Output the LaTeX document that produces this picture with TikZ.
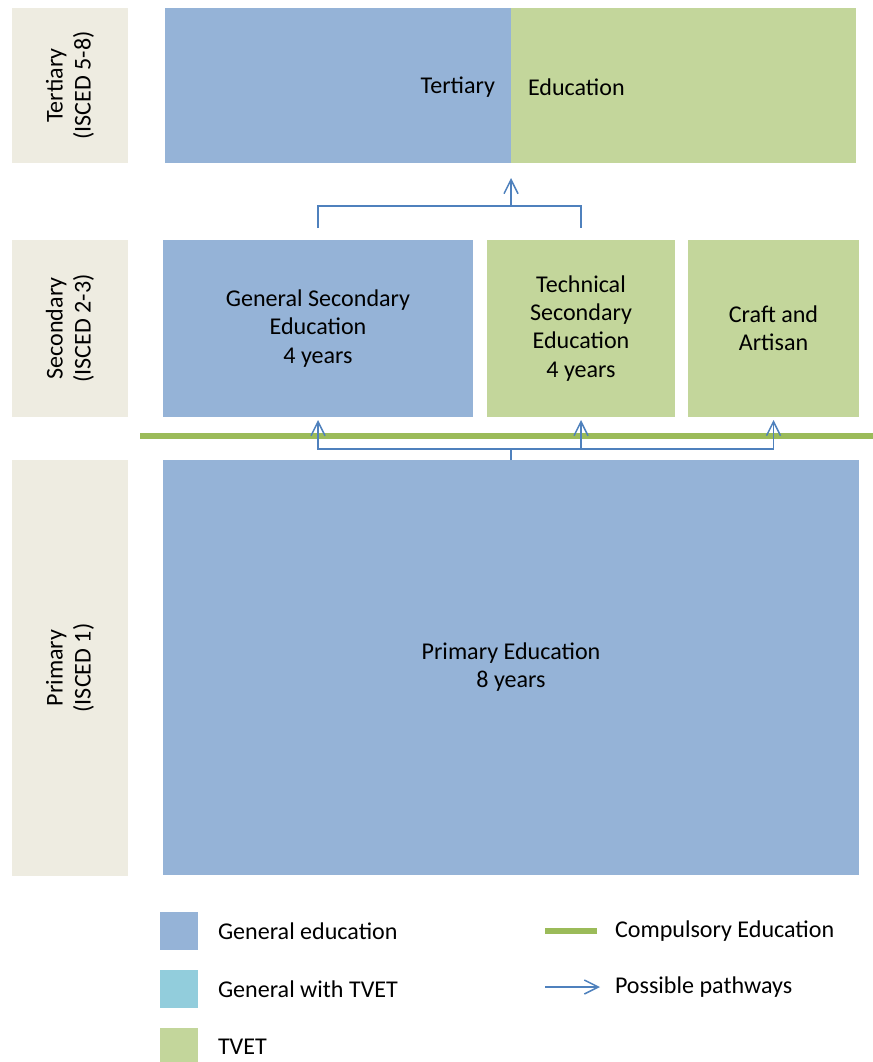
\documentclass[tikz,border=0pt]{standalone}
\usepackage{fontspec}
\setmainfont{Carlito}
\usetikzlibrary{calc,arrows.meta}
\usetikzlibrary{positioning}

\begin{document}
\begin{tikzpicture}[
		box/.style={anchor=north west,inner sep=0pt,outer sep=0pt,align=center},
		lvl/.style={box,fill=back,minimum width=2.32cm},
		key/.style={inner sep=0pt,outer sep=0pt},
		path/.style={draw=pathcolor,line width=0.85pt},
		pathto/.style={path,-{Straight Barb[length=8pt,width=8pt,line width=0.85pt]}},
		compline/.style={draw=compcolor,line width=3.4pt},
		font=\fontsize{13.7}{16}\selectfont]

		    \useasboundingbox (0,0) rectangle (17.46,-21.24);
		    \definecolor{gencolor}{RGB}{149,179,215}
		    \definecolor{tvetcolor}{RGB}{195,214,155}
		    \definecolor{gwtcolor}{RGB}{146,205,220}
		    \definecolor{back}{RGB}{238,236,225}
		    \definecolor{compcolor}{RGB}{155,187,89}
		    \definecolor{pathcolor}{RGB}{79,129,189}

		    % level labels
		    \node(ltert) [lvl,minimum height=3.1cm] at (0.24,-0.16) {};
		    \node(lsec) [lvl,minimum height=3.54cm] at (0.24,-4.8) {};
		    \node(lprim) [lvl,minimum height=8.32cm] at (0.24,-9.2) {};
		    \node[rotate=90,align=center] at (ltert) {Tertiary\\(ISCED 5-8)};
		    \node[rotate=90,align=center] at (lsec) {Secondary\\(ISCED 2-3)};
		    \node[rotate=90,align=center] at (lprim) {Primary\\(ISCED 1)};

		    % tertiary
		    \node(tgen) [box,fill=gencolor,minimum width=6.92cm,minimum height=3.1cm] at (3.3,-0.16) {};
		    \node(ttvet) [box,fill=tvetcolor,minimum width=6.9cm,minimum height=3.1cm,right=0cm of tgen] {};
		    \node(ttext1) [key,left=0.32cm of tgen.east,yshift=-1pt] {Tertiary};
		    \node(ttext2) [key,right=0.34cm of ttvet.west,yshift=-1pt] {Education};

		    % secondary
		    \node(gsec) [box,fill=gencolor,minimum width=6.2cm,minimum height=3.54cm] at (3.26,-4.8) {General Secondary\\Education\\4 years};
		    \node(tsec) [box,fill=tvetcolor,minimum width=3.76cm,minimum height=3.54cm,right=0.28cm of gsec] {Technical\\Secondary\\Education\\4 years};
		    \node(craft) [box,fill=tvetcolor,minimum width=3.42cm,minimum height=3.54cm,right=0.26cm of tsec] {Craft and\\Artisan};

		    % primary
		    \node(prim) [box,fill=gencolor,minimum width=13.92cm,minimum height=8.3cm] at (3.26,-9.2) {Primary Education\\8 years};

		    % compulsory line
		    \coordinate(cstart) at (2.8,-8.72);
		    \draw[compline] (cstart) -- (17.46,-8.72);

		    % pathways
		    \draw[path] ([yshift=0.24cm]gsec.north) -- ++(0,0.44) -| ([yshift=0.24cm]tsec.north);
		    \coordinate(tfork) at ($(gsec.north -| tgen.south east)+(0,0.68)$);
		    \draw[pathto] (tfork) -- ([yshift=-0.3cm]tgen.south east);

		    \coordinate(pfork) at ($(prim.north)+(0,0.22)$);
		    \draw[path] (prim.north) -- (pfork);
		    \draw[pathto] (pfork) -| ([yshift=-0.06cm]gsec.south);
		    \draw[pathto] (pfork) -| ([yshift=-0.06cm]tsec.south);
		    \draw[pathto] (pfork) -| ([yshift=-0.06cm]craft.south);

		    % legend
		    \node(kgen) [box,fill=gencolor,minimum size=0.76cm] at (3.2,-18.24) {};
		    \node(kgwt) [box,fill=gwtcolor,minimum size=0.76cm,below=0.4cm of kgen] {};
		    \node(ktvet) [box,fill=tvetcolor,minimum size=0.76cm,below=0.4cm of kgwt] {};
		    \node[key,right=0.4cm of kgen] {General education};
		    \node[key,right=0.4cm of kgwt] {General with TVET};
		    \node[key,right=0.4cm of ktvet] {TVET};

		    \node(kcomp) [key,anchor=west] at (12.3,-18.62) {Compulsory Education};
		    \node(kpath) [key,anchor=west] at (12.3,-19.74) {Possible pathways};
		    \draw[compline,line width=3pt] ([xshift=-0.36cm]kcomp.west) -- ([xshift=-1.4cm]kcomp.west);
		    \draw[pathto,line width=0.7pt] ([xshift=-1.4cm]kpath.west) -- ([xshift=-0.3cm]kpath.west);

\end{tikzpicture}
\end{document}
